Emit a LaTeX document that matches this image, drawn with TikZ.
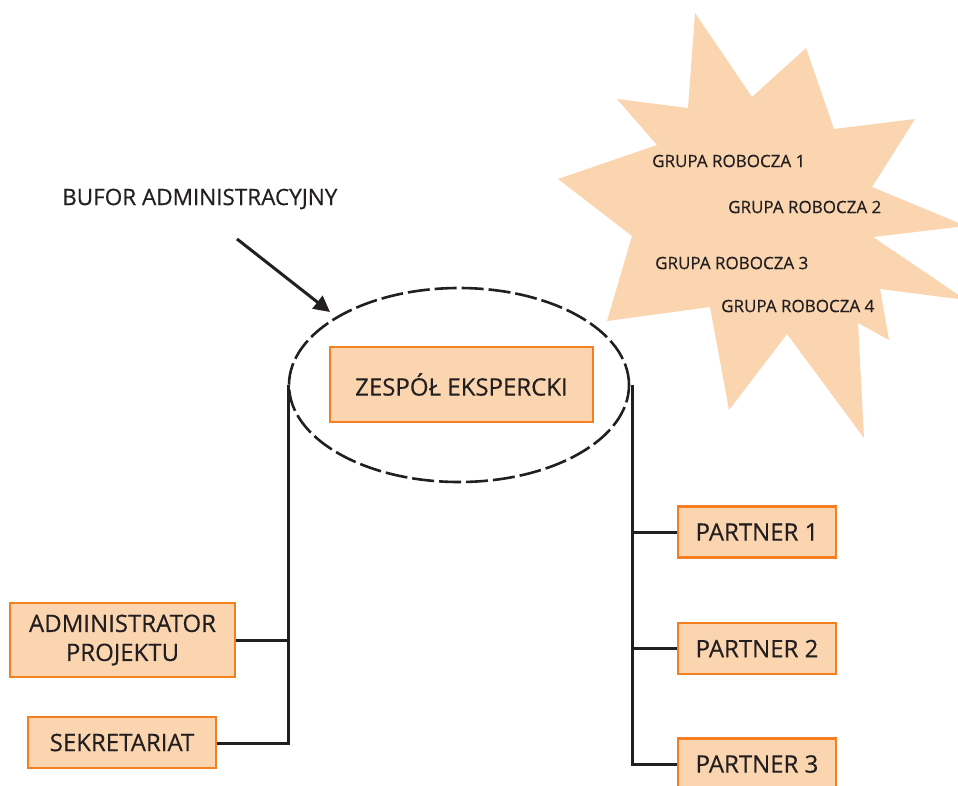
\documentclass[tikz,border=0pt]{standalone}
\usepackage{fontspec}
\setmainfont{Open Sans}[FakeBold=0.4]
\usetikzlibrary{arrows.meta,shapes.geometric}
\definecolor{peach}{HTML}{FBD5B0}
\definecolor{frame}{HTML}{F47F20}
\definecolor{ink}{HTML}{231F20}
\tikzset{
  unitbox/.style={draw=frame, fill=peach, line width=2.6pt, text=ink,
    font=\fontsize{24}{29}\selectfont, inner sep=0pt, align=center},
  link/.style={draw=ink, line width=3pt},
  grouplabel/.style={text=ink, font=\fontsize{17}{20}\selectfont, inner sep=0pt},
}
\begin{document}
\begin{tikzpicture}[x=1pt, y=-1pt]
\clip (0,0) rectangle (958,785);
\fill[white] (0,0) rectangle (958,785);

% working groups star
\fill[peach] (695,13) -- (752,97) -- (806,48) -- (834,129) -- (915,119)
  -- (872,187) -- (966,226) -- (873,237) -- (966,300) -- (880,289)
  -- (889,340) -- (858,323) -- (864,438) -- (787,334) -- (729,410)
  -- (710,307) -- (607,321) -- (632,236) -- (558,179) -- (657,145)
  -- (617,99) -- (688,108) -- cycle;
\node[grouplabel, anchor=west] (g1) at (652,161) {GRUPA ROBOCZA 1};
\node[grouplabel, anchor=west] (g2) at (728,207) {GRUPA ROBOCZA 2};
\node[grouplabel, anchor=west] (g3) at (655,263) {GRUPA ROBOCZA 3};
\node[grouplabel, anchor=west] (g4) at (721,306) {GRUPA ROBOCZA 4};

% administrative buffer
\node[draw=ink, dash pattern=on 22pt off 5pt, line width=2.6pt,
  ellipse, minimum width=340pt, minimum height=194pt, inner sep=0pt]
  (buf) at (459,385) {};
\node[text=ink, font=\fontsize{22.5}{26}\selectfont, anchor=west, inner sep=0pt]
  (buflabel) at (62,199) {BUFOR ADMINISTRACYJNY};
\coordinate (tail) at (237,239);
\coordinate (tip) at (330,312);
\draw[ink, line width=3pt, -{Triangle[length=16pt, width=16pt]}] (tail) -- (tip);

% expert team
\node[unitbox, minimum width=263pt, minimum height=75pt] (team) at (461.5,384.5) {ZESPÓŁ EKSPERCKI};

% left branch
\node[unitbox, minimum width=225pt, minimum height=74pt] (admin) at (122.5,640) {ADMINISTRATOR\\PROJEKTU};
\node[unitbox, minimum width=188pt, minimum height=51pt] (sekr) at (122,742.5) {SEKRETARIAT};
\coordinate (lt) at (288,385);
\coordinate (lb) at (288,743);
\draw[link] (lt) -- (lb) -- (sekr.east |- lb);
\draw[link] (admin.east) -- (admin.east -| lt);

% right branch
\node[unitbox, minimum width=158pt, minimum height=51pt] (p1) at (757,532) {PARTNER 1};
\node[unitbox, minimum width=158pt, minimum height=51pt] (p2) at (757,648.5) {PARTNER 2};
\node[unitbox, minimum width=158pt, minimum height=51pt] (p3) at (757,764) {PARTNER 3};
\coordinate (rt) at (632,385);
\coordinate (rb) at (632,764);
\draw[link] (rt) -- (rb) -- (p3.west);
\draw[link] (p1.west) -- (p1.west -| rt);
\draw[link] (p2.west) -- (p2.west -| rt);
\end{tikzpicture}
\end{document}
